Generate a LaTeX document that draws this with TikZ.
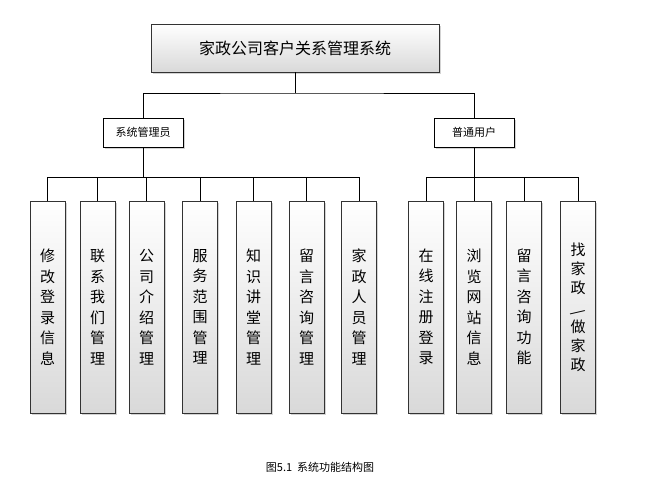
\documentclass[tikz,border=0pt]{standalone}
\usepackage{fontspec}
\setmainfont{Noto Sans CJK SC}
\usetikzlibrary{shadows}
\begin{document}
\begin{tikzpicture}[x=1pt,y=-1pt,
  box/.style={draw=black!80,line width=0.6pt,top color=white,bottom color=black!15,drop shadow={opacity=0.35,shadow xshift=1.5pt,shadow yshift=-1.5pt},inner sep=0pt},
  leaf/.style={box,minimum width=35pt,minimum height=212pt,align=center,font=\fontsize{15}{20.5}\selectfont},
  ln/.style={line width=0.6pt}]
\useasboundingbox (0,0) rectangle (653,496);
\node[box,minimum width=288pt,minimum height=48pt,font=\fontsize{16}{18}\selectfont] (root) at (295,48) {家政公司客户关系管理系统};
\node[box,draw=black,top color=white,bottom color=white,minimum width=80pt,minimum height=29pt,font=\fontsize{11}{13}\selectfont] (adm) at (143,132.5) {系统管理员};
\node[box,draw=black,top color=white,bottom color=white,minimum width=80pt,minimum height=29pt,font=\fontsize{11}{13}\selectfont] (usr) at (474,132.5) {普通用户};
\coordinate (b1) at (295,93);
\draw[ln] (root.south) -- (b1);
\draw[ln] (adm.north) |- (b1) -| (usr.north);
\foreach \n/\x/\t in {a1/47.5/修\\改\\登\\录\\信\\息,a2/97.5/联\\系\\我\\们\\管\\理,a3/146.5/公\\司\\介\\绍\\管\\理,a4/200/服\\务\\范\\围\\管\\理,a5/253.5/知\\识\\讲\\堂\\管\\理,a6/306.5/留\\言\\咨\\询\\管\\理,a7/359/家\\政\\人\\员\\管\\理}{
  \node[leaf] (\n) at (\x,307) {\t};
  \draw[ln] (\n.north) -- (\x,177);
}
\draw[ln] (adm.south) -- (143,177);
\draw[ln] (47.5,177) -- (359,177);
\foreach \n/\x/\t in {u1/426/在\\线\\注\\册\\登\\录,u2/474/浏\\览\\网\\站\\信\\息,u3/524/留\\言\\咨\\询\\功\\能}{
  \node[leaf] (\n) at (\x,307) {\t};
  \draw[ln] (\n.north) -- (\x,177);
}
\node[leaf,font=\fontsize{15}{19}\selectfont] (u4) at (578,307) {找\\家\\政\\\rotatebox{-60}{/}\\做\\家\\政};
\draw[ln] (u4.north) -- (578,177);
\draw[ln] (usr.south) -- (474,177);
\draw[ln] (426,177) -- (578,177);
\node[font=\fontsize{11}{13}\selectfont] (cap) at (320,467) {图5.1\ \ 系统功能结构图};
\end{tikzpicture}
\end{document}
